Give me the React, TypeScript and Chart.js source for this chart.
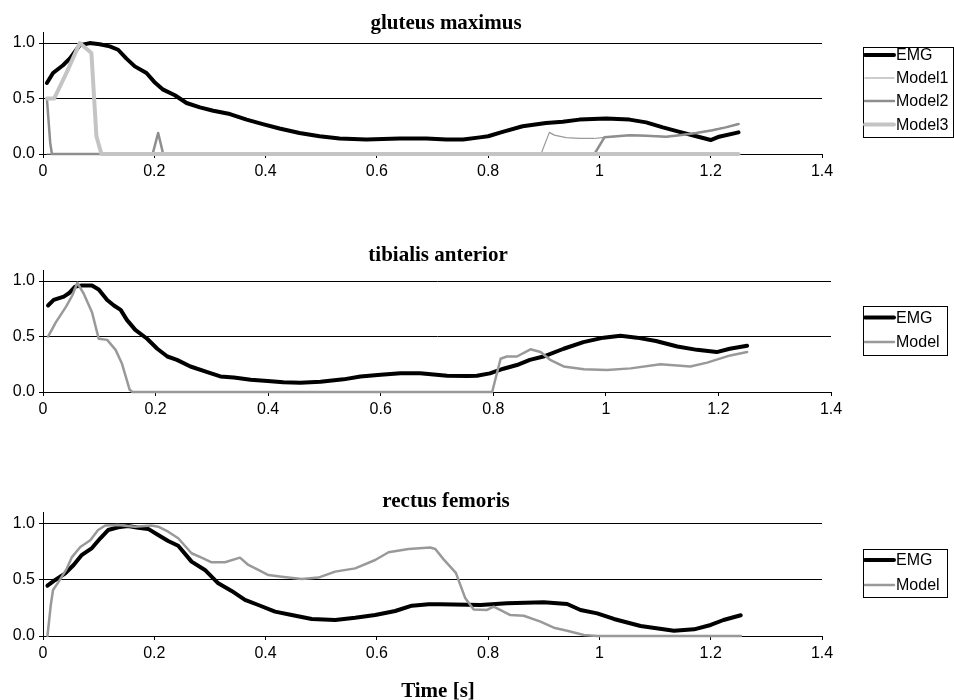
import React, { useEffect, useRef } from "react";
import { Chart, registerables } from "chart.js";

Chart.register(...registerables);

type Pt = [number, number];

// ---------- data ----------
const xTickValues = [0, 0.2, 0.4, 0.6, 0.8, 1.0, 1.2, 1.4];
const yTickValues = [0, 0.5, 1.0];
const xMin = 0;
const xMax = 1.4;
const yMin = 0;
const yMax = 1.1;

const panelTitles = ["gluteus maximus", "tibialis anterior", "rectus femoris"];
const xAxisTitle = "Time [s]";

// gluteus maximus
const gmEMG: Pt[] = [
  [0.007, 0.64], [0.018, 0.73], [0.036, 0.8], [0.048, 0.86], [0.066, 0.98], [0.084, 1.0],
  [0.102, 0.99], [0.12, 0.97], [0.135, 0.94], [0.15, 0.86], [0.165, 0.79], [0.186, 0.73],
  [0.2, 0.65], [0.216, 0.58], [0.237, 0.53], [0.258, 0.46], [0.282, 0.42], [0.306, 0.39],
  [0.336, 0.36], [0.366, 0.31], [0.395, 0.27], [0.425, 0.23], [0.461, 0.19], [0.497, 0.16],
  [0.533, 0.14], [0.581, 0.13], [0.641, 0.14], [0.689, 0.14], [0.725, 0.13], [0.755, 0.13],
  [0.785, 0.15], [0.8, 0.16], [0.826, 0.2], [0.862, 0.25], [0.904, 0.28], [0.934, 0.29],
  [0.964, 0.31], [1.012, 0.32], [1.054, 0.31], [1.084, 0.285], [1.114, 0.24], [1.144, 0.2],
  [1.174, 0.16], [1.2, 0.126], [1.215, 0.156], [1.25, 0.195],
];
const gmModel1: Pt[] = [
  [0.007, 0], [0.895, 0], [0.91, 0.195], [0.919, 0.17], [0.94, 0.147], [0.964, 0.14],
  [0.99, 0.14], [1.009, 0.15], [1.054, 0.17], [1.084, 0.165], [1.12, 0.155], [1.144, 0.17],
  [1.174, 0.19], [1.203, 0.215], [1.227, 0.24], [1.25, 0.27],
];
const gmModel2: Pt[] = [
  [0.007, 0.5], [0.013, 0.1], [0.016, 0], [0.197, 0], [0.207, 0.19], [0.216, 0], [0.991, 0],
  [1.009, 0.15], [1.054, 0.17], [1.084, 0.165], [1.12, 0.155], [1.144, 0.17], [1.174, 0.19],
  [1.203, 0.215], [1.227, 0.24], [1.25, 0.27],
];
const gmModel3: Pt[] = [
  [0.007, 0.5], [0.02, 0.5], [0.043, 0.74], [0.066, 1.0], [0.087, 0.91], [0.096, 0.16],
  [0.105, 0], [1.25, 0],
];

// tibialis anterior
const taEMG: Pt[] = [
  [0.009, 0.78], [0.019, 0.83], [0.037, 0.86], [0.046, 0.89], [0.057, 0.95], [0.069, 0.96],
  [0.087, 0.96], [0.099, 0.925], [0.114, 0.83], [0.126, 0.78], [0.138, 0.74], [0.149, 0.65],
  [0.164, 0.56], [0.185, 0.48], [0.203, 0.39], [0.221, 0.32], [0.238, 0.29], [0.262, 0.23],
  [0.292, 0.18], [0.315, 0.14], [0.339, 0.13], [0.369, 0.11], [0.399, 0.1], [0.427, 0.087],
  [0.457, 0.084], [0.493, 0.093], [0.534, 0.114], [0.564, 0.14], [0.6, 0.155], [0.635, 0.17],
  [0.67, 0.17], [0.718, 0.146], [0.754, 0.144], [0.771, 0.146], [0.794, 0.168], [0.818, 0.21],
  [0.842, 0.243], [0.865, 0.29], [0.889, 0.32], [0.925, 0.39], [0.96, 0.45], [0.996, 0.49],
  [1.026, 0.507], [1.055, 0.49], [1.089, 0.46], [1.127, 0.41], [1.162, 0.38], [1.197, 0.36],
  [1.22, 0.39], [1.251, 0.417],
];
const taModel: Pt[] = [
  [0.009, 0.5], [0.023, 0.63], [0.041, 0.77], [0.052, 0.87], [0.061, 0.985], [0.072, 0.89],
  [0.087, 0.72], [0.099, 0.48], [0.114, 0.47], [0.129, 0.38], [0.14, 0.26], [0.154, 0.02],
  [0.159, 0], [0.798, 0], [0.813, 0.3], [0.824, 0.32], [0.842, 0.32], [0.866, 0.385],
  [0.884, 0.36], [0.901, 0.29], [0.925, 0.23], [0.961, 0.205], [1.002, 0.198], [1.044, 0.213],
  [1.097, 0.25], [1.15, 0.23], [1.18, 0.265], [1.221, 0.33], [1.251, 0.36],
];

// rectus femoris
const rfEMG: Pt[] = [
  [0.008, 0.446], [0.022, 0.497], [0.04, 0.556], [0.055, 0.63], [0.07, 0.72], [0.088, 0.78],
  [0.103, 0.867], [0.117, 0.94], [0.135, 0.965], [0.153, 0.976], [0.171, 0.961], [0.189, 0.95],
  [0.207, 0.896], [0.225, 0.843], [0.243, 0.8], [0.267, 0.66], [0.291, 0.586], [0.315, 0.467],
  [0.339, 0.4], [0.363, 0.32], [0.387, 0.275], [0.417, 0.216], [0.447, 0.186], [0.483, 0.151],
  [0.525, 0.142], [0.561, 0.162], [0.597, 0.186], [0.633, 0.222], [0.663, 0.269], [0.693, 0.281],
  [0.714, 0.281], [0.786, 0.275], [0.834, 0.29], [0.9, 0.299], [0.942, 0.284], [0.966, 0.231],
  [0.996, 0.201], [1.026, 0.151], [1.074, 0.089], [1.134, 0.047], [1.17, 0.059], [1.2, 0.098],
  [1.223, 0.142], [1.254, 0.184],
];
const rfModel: Pt[] = [
  [0.008, 0], [0.014, 0.275], [0.018, 0.408], [0.028, 0.48], [0.043, 0.6], [0.052, 0.7],
  [0.067, 0.79], [0.085, 0.85], [0.099, 0.94], [0.112, 0.98], [0.135, 0.985], [0.165, 0.97],
  [0.195, 0.98], [0.207, 0.97], [0.225, 0.925], [0.243, 0.867], [0.267, 0.734], [0.285, 0.695],
  [0.303, 0.654], [0.327, 0.654], [0.354, 0.695], [0.369, 0.63], [0.387, 0.586], [0.405, 0.541],
  [0.429, 0.526], [0.465, 0.506], [0.495, 0.518], [0.525, 0.571], [0.561, 0.6], [0.597, 0.674],
  [0.621, 0.743], [0.657, 0.772], [0.696, 0.785], [0.705, 0.772], [0.72, 0.68], [0.742, 0.56],
  [0.759, 0.334], [0.774, 0.235], [0.798, 0.231], [0.81, 0.26], [0.84, 0.186], [0.864, 0.18],
  [0.894, 0.127], [0.918, 0.074], [0.942, 0.047], [0.972, 0.009], [0.996, 0], [1.254, 0],
];

// ---------- styling / layout ----------
const SANS = "'Liberation Sans', Arial, Helvetica, sans-serif";
const SERIF = "'Liberation Serif', 'Times New Roman', Times, serif";
const CANVAS_W = 954;
const X_AXIS_H = 30;

type Series = { label: string; data: Pt[]; color: string; width: number };

type Panel = {
  top: number;
  height: number;
  area: { top: number; bottom: number; left: number; right: number };
  title: string;
  titleX: number;
  titleY: number;
  legend: { x: number; y: number; w: number; h: number; rows: number[] };
  xLabel?: { text: string; x: number; y: number };
  series: Series[];
};

const panels: Panel[] = [
  {
    top: 0,
    height: 235,
    area: { top: 32, bottom: 154, left: 43, right: 822 },
    title: panelTitles[0],
    titleX: 446,
    titleY: 28.5,
    legend: { x: 863, y: 47, w: 90, h: 90, rows: [55, 78, 101, 124.5] },
    series: [
      { label: "EMG", data: gmEMG, color: "#000000", width: 4 },
      { label: "Model1", data: gmModel1, color: "#9a9a9a", width: 1.2 },
      { label: "Model2", data: gmModel2, color: "#8e8e8e", width: 2.5 },
      { label: "Model3", data: gmModel3, color: "#c4c4c4", width: 4 },
    ],
  },
  {
    top: 235,
    height: 235,
    area: { top: 35, bottom: 157, left: 43, right: 831 },
    title: panelTitles[1],
    titleX: 438,
    titleY: 25.5,
    legend: { x: 863, y: 70.5, w: 84, h: 48.5, rows: [82.5, 107] },
    series: [
      { label: "EMG", data: taEMG, color: "#000000", width: 4 },
      { label: "Model", data: taModel, color: "#999999", width: 2.5 },
    ],
  },
  {
    top: 470,
    height: 230,
    area: { top: 42, bottom: 166, left: 43, right: 822 },
    title: panelTitles[2],
    titleX: 446,
    titleY: 36.5,
    legend: { x: 863, y: 78.5, w: 84, h: 47.5, rows: [90, 115] },
    xLabel: { text: xAxisTitle, x: 438, y: 226.5 },
    series: [
      { label: "EMG", data: rfEMG, color: "#000000", width: 4 },
      { label: "Model", data: rfModel, color: "#999999", width: 2.5 },
    ],
  },
];

const decorPlugin = {
  id: "panelDecor",
  afterDraw(chart: any, _args: any, opts: any) {
    const ctx = chart.ctx as CanvasRenderingContext2D;
    ctx.save();
    // title
    ctx.fillStyle = "#000";
    ctx.font = `bold 21px ${SERIF}`;
    ctx.textAlign = "center";
    ctx.textBaseline = "alphabetic";
    ctx.fillText(opts.title, opts.titleX, opts.titleY);
    if (opts.xLabel) {
      ctx.fillText(opts.xLabel.text, opts.xLabel.x, opts.xLabel.y);
    }
    // legend
    const lg = opts.legend;
    ctx.strokeStyle = "#000";
    ctx.lineWidth = 1;
    ctx.strokeRect(Math.round(lg.x) + 0.5, Math.round(lg.y) + 0.5, Math.round(lg.w), Math.round(lg.h));
    ctx.font = `16px ${SANS}`;
    ctx.textAlign = "left";
    ctx.textBaseline = "middle";
    chart.data.datasets.forEach((ds: any, i: number) => {
      const y = lg.rows[i];
      ctx.beginPath();
      ctx.strokeStyle = ds.borderColor;
      ctx.lineWidth = ds.borderWidth;
      ctx.lineCap = "round";
      ctx.moveTo(lg.x + 2, y);
      ctx.lineTo(lg.x + 31, y);
      ctx.stroke();
      ctx.fillStyle = "#000";
      ctx.fillText(ds.label, lg.x + 33, y + 1);
    });
    ctx.restore();
  },
};

function PanelChart({ panel }: { panel: Panel }) {
  const ref = useRef<HTMLCanvasElement | null>(null);
  useEffect(() => {
    if (!ref.current) return;
    const p = panel;
    const n = p.series.length;
    const chart = new Chart(ref.current, {
      type: "line",
      data: {
        datasets: p.series.map((s, i) => ({
          label: s.label,
          data: s.data.map(([x, y]) => ({ x, y })),
          borderColor: s.color,
          backgroundColor: s.color,
          borderWidth: s.width,
          pointRadius: 0,
          pointHoverRadius: 0,
          tension: 0,
          fill: false,
          borderCapStyle: "round",
          borderJoinStyle: "round",
          clip: false,
          order: n - i,
        })),
      },
      options: {
        responsive: false,
        animation: false,
        devicePixelRatio: 1,
        events: [],
        layout: {
          padding: {
            top: p.area.top,
            left: 0,
            right: CANVAS_W - p.area.right,
            bottom: p.height - p.area.bottom - X_AXIS_H,
          },
        },
        plugins: {
          legend: { display: false },
          title: { display: false },
          tooltip: { enabled: false },
          panelDecor: {
            title: p.title,
            titleX: p.titleX,
            titleY: p.titleY,
            legend: p.legend,
            xLabel: p.xLabel,
          },
        } as any,
        scales: {
          x: {
            type: "linear",
            min: xMin,
            max: xMax,
            afterBuildTicks: (scale: any) => {
              scale.ticks = xTickValues.map((v) => ({ value: v }));
            },
            afterFit: (scale: any) => {
              scale.height = X_AXIS_H;
            },
            ticks: {
              color: "#000",
              font: { family: SANS, size: 16 },
              padding: 4,
              maxRotation: 0,
              autoSkip: false,
              callback: (v: any) => String(Math.round(Number(v) * 10) / 10),
            },
            grid: {
              drawOnChartArea: false,
              drawTicks: true,
              tickLength: 4,
              color: "#000",
              lineWidth: 1,
            },
            border: { display: true, color: "#000", width: 1 },
          },
          y: {
            type: "linear",
            min: yMin,
            max: yMax,
            afterBuildTicks: (scale: any) => {
              scale.ticks = yTickValues.map((v) => ({ value: v }));
            },
            afterFit: (scale: any) => {
              scale.width = p.area.left;
            },
            ticks: {
              color: "#000",
              font: { family: SANS, size: 16 },
              padding: 4,
              autoSkip: false,
              callback: (v: any) => Number(v).toFixed(1),
            },
            grid: {
              drawOnChartArea: true,
              drawTicks: true,
              tickLength: 4,
              color: "#000",
              lineWidth: 1,
            },
            border: { display: true, color: "#000", width: 1 },
          },
        },
      },
      plugins: [decorPlugin],
    } as any);
    return () => chart.destroy();
  }, [panel]);

  return (
    <canvas
      ref={ref}
      width={CANVAS_W}
      height={panel.height}
      style={{ position: "absolute", left: 0, top: panel.top, width: CANVAS_W, height: panel.height }}
    />
  );
}

export default function App() {
  return (
    <div
      style={{
        position: "absolute",
        left: 0,
        top: 0,
        width: CANVAS_W,
        height: 700,
        background: "#ffffff",
        overflow: "hidden",
      }}
    >
      {panels.map((p, i) => (
        <PanelChart key={i} panel={p} />
      ))}
    </div>
  );
}
